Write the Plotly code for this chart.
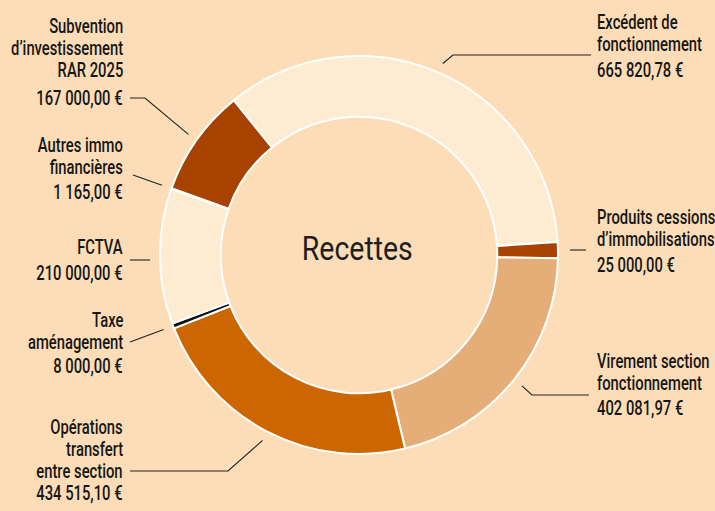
import math
import plotly.graph_objects as go

# ---- data ----
labels = ["Excédent de fonctionnement", "Produits cessions d'immobilisations",
          "Virement section fonctionnement", "Opérations transfert entre section",
          "Taxe aménagement", "FCTVA", "Autres immo financières",
          "Subvention d'investissement RAR 2025"]
values = [665820.78, 25000.00, 402081.97, 434515.10, 8000.00, 210000.00, 1165.00, 167000.00]
value_text = ["665 820,78 €", "25 000,00 €", "402 081,97 €", "434 515,10 €",
              "8 000,00 €", "210 000,00 €", "1 165,00 €", "167 000,00 €"]
name_lines = [["Excédent de", "fonctionnement"],
              ["Produits cessions", "d’immobilisations"],
              ["Virement section", "fonctionnement"],
              ["Opérations", "transfert", "entre section"],
              ["Taxe", "aménagement"],
              ["FCTVA"],
              ["Autres immo", "financières"],
              ["Subvention", "d’investissement", "RAR 2025"]]
colors = ["#FEECD2", "#A84200", "#E5AE78", "#CC6600", "#111111", "#FEECD2", "#FEECD2", "#A84200"]
center_title = "Recettes"

# ---- layout geometry (pixels) ----
W, H = 715, 511
CX, CY, R = 359, 255, 199
ROT = -39
BG = "#FCDDB7"
FONT = "Roboto, Liberation Sans, DejaVu Sans, sans-serif"
TXT = "#161616"
FS = 21

fig = go.Figure()
fig.add_trace(go.Pie(
    labels=labels, values=values, sort=False, direction="clockwise", rotation=ROT,
    hole=0.695, textinfo="none", hoverinfo="label+value", showlegend=False,
    marker=dict(colors=colors, line=dict(color="white", width=2)),
    domain=dict(x=[(CX - R) / W, (CX + R) / W], y=[1 - (CY + R) / H, 1 - (CY - R) / H]),
))

# mid-angles of slices (clockwise from 12 o'clock)
total = sum(values)
mids = []
acc = 0
for v in values:
    a0 = ROT + 360 * acc / total
    acc += v
    a1 = ROT + 360 * acc / total
    mids.append(math.radians((a0 + a1) / 2))

def ring_pt(i, rr=209):
    return CX + rr * math.sin(mids[i]), CY - rr * math.cos(mids[i])

# label placement: (x, anchor, [line y's], value y)
XL, XR = 124.5, 594.5
place = [
    (XR, "left", [22, 44], 70),
    (XR, "left", [217, 239], 265),
    (XR, "left", [361, 383], 408),
    (XL, "right", [427, 449, 471], 493),
    (XL, "right", [320, 342], 366),
    (XL, "right", [247], 273),
    (XL, "right", [145, 167], 192),
    (XL, "right", [26, 48, 70], 98),
]

annotations = []
for i, (x, anc, ys, vy) in enumerate(place):
    for line, y in zip(name_lines[i], ys):
        annotations.append(dict(x=x, y=y, xref="x", yref="y", text=line, showarrow=False,
                                xanchor=anc, yanchor="middle",
                                font=dict(family=FONT, size=FS, color=TXT, weight=500)))
    annotations.append(dict(x=x, y=vy, xref="x", yref="y", text=value_text[i], showarrow=False,
                            xanchor=anc, yanchor="middle",
                            font=dict(family=FONT, size=FS, color=TXT, weight=500)))

center_idx = len(annotations)
annotations.append(dict(x=357, y=248, xref="x", yref="y", text=center_title, showarrow=False,
                        xanchor="center", yanchor="middle",
                        font=dict(family=FONT, size=34, color="#1e1e1e", weight=400)))

# leader lines: (label end, elbow or None, ring end from slice mid-angle)
leaders = [
    ((591, 55), (453, 55), ring_pt(0)),
    ((586, 250), None, (570, 250)),
    ((589, 395), (532, 395), ring_pt(2)),
    ((130, 471), (228, 471), ring_pt(3)),
    ((130, 342), None, ring_pt(4)),
    ((130, 260), None, (150, 260)),
    ((133, 175), None, ring_pt(6)),
    ((130, 98), (145, 98), ring_pt(7)),
]
shapes = []
for end, elbow, rp in leaders:
    pts = [end] + ([elbow] if elbow else []) + [rp]
    path = "M " + " L ".join(f"{px:.1f},{py:.1f}" for px, py in pts)
    shapes.append(dict(type="path", path=path, xref="x", yref="y",
                       line=dict(color="#222222", width=1.1)))

fig.update_layout(
    width=W, height=H, margin=dict(l=0, r=0, t=0, b=0),
    paper_bgcolor=BG, plot_bgcolor=BG,
    xaxis=dict(range=[0, W], visible=False, fixedrange=True),
    yaxis=dict(range=[H, 0], visible=False, fixedrange=True),
    annotations=annotations, shapes=shapes,
)

# The original typeface is a narrow (condensed) sans; condense the label text horizontally
# so that "fonctionnement" is ~105 px wide and "Recettes" ~111 px wide, anchored at each label's edge.
REF_IDX = 1          # "fonctionnement" (second line of first label)
REF_W = 105
CEN_W = 111
js = """
document.body.style.margin='0';document.body.style.background='BGCOL';
var gd=document.getElementById('{plot_id}');
var anns=gd.layout.annotations;
function txt(i){return gd.querySelector('g.annotation[data-index="'+i+'"] text.annotation-text');}
var sL=REFW/txt(REFI).getBBox().width, sC=CENW/txt(CENI).getBBox().width;
gd.querySelectorAll('g.annotation').forEach(function(g){
  var i=+g.getAttribute('data-index'); var t=g.querySelector('text.annotation-text'); if(!t)return;
  var b=t.getBBox(); var a=anns[i].xanchor; var s=(i===CENI)?sC:sL;
  var ax=a==='right'?b.x+b.width:(a==='left'?b.x:b.x+b.width/2);
  t.setAttribute('transform','translate('+ax+',0) scale('+s+',1) translate('+(-ax)+',0)');
});
"""
js = (js.replace("BGCOL", BG).replace("REFW", str(REF_W)).replace("REFI", str(REF_IDX))
        .replace("CENW", str(CEN_W)).replace("CENI", str(center_idx)))
fig.write_html("out.html", config={"displayModeBar": False}, post_script=js)
